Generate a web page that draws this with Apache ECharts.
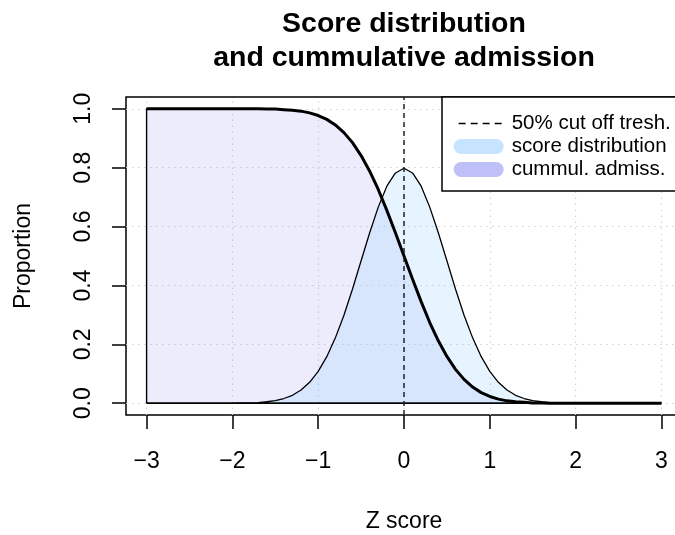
<!DOCTYPE html>
<html><head><meta charset="utf-8">
<script src="https://cdn.jsdelivr.net/npm/echarts@6/dist/echarts.min.js"></script>
<style>html,body{margin:0;padding:0;background:#fff}#c{width:675px;height:535px}</style>
</head><body><div id="c"></div>
<script>
// ---- data ----
const zScores = [-3.0,-2.9,-2.8,-2.7,-2.6,-2.5,-2.4,-2.3,-2.2,-2.1,
  -2.0,-1.9,-1.8,-1.7,-1.6,-1.5,-1.4,-1.3,-1.2,-1.1,
  -1.0,-0.9,-0.8,-0.7,-0.6,-0.5,-0.4,-0.3,-0.2,-0.1,
  0.0,
  0.1,0.2,0.3,0.4,0.5,0.6,0.7,0.8,0.9,1.0,
  1.1,1.2,1.3,1.4,1.5,1.6,1.7,1.8,1.9,2.0,
  2.1,2.2,2.3,2.4,2.5,2.6,2.7,2.8,2.9,3.0];
const scoreDensity = [0,0,0,0,0,0,0,0,0,0,
  0,0.001,0.001,0.002,0.005,0.009,0.016,0.027,0.045,0.071,
  0.108,0.158,0.222,0.299,0.388,0.484,0.579,0.666,0.737,0.782,
  0.798,
  0.782,0.737,0.666,0.579,0.484,0.388,0.299,0.222,0.158,0.108,
  0.071,0.045,0.027,0.016,0.009,0.005,0.002,0.001,0.001,0,
  0,0,0,0,0,0,0,0,0,0];
const cumulAdmission = [1,1,1,1,1,1,1,1,1,1,
  1,1,1,1,0.999,0.999,0.997,0.995,0.992,0.986,
  0.977,0.964,0.945,0.919,0.885,0.841,0.788,0.726,0.655,0.579,
  0.5,
  0.421,0.345,0.274,0.212,0.159,0.115,0.081,0.055,0.036,0.023,
  0.014,0.008,0.005,0.003,0.001,0.001,0,0,0,0,
  0,0,0,0,0,0,0,0,0,0];
const cutoffZ = 0;
const xTicks = [-3,-2,-1,0,1,2,3];
const xTickLabels = ['\u22123','\u22122','\u22121','0','1','2','3'];
const yTicks = [0,0.2,0.4,0.6,0.8,1.0];
const yTickLabels = ['0.0','0.2','0.4','0.6','0.8','1.0'];
const seriesNames = ['50% cut off tresh.','score distribution','cummul. admiss.'];
const titleLines = ['Score distribution','and cummulative admission'];
const xName = 'Z score';
const yName = 'Proportion';

// ---- derived ----
const FONT = '"Liberation Sans", Arial, Helvetica, sans-serif';
const xPad = 0.04 * (xTicks[xTicks.length-1] - xTicks[0]);
const yPad = 0.04 * (yTicks[yTicks.length-1] - yTicks[0]);
const xMin = xTicks[0] - xPad, xMax = xTicks[xTicks.length-1] + xPad;
const yMin = yTicks[0] - yPad, yMax = yTicks[yTicks.length-1] + yPad;
const x0 = zScores[0], x1 = zScores[zScores.length-1];
const polygon = ys => [[x0, 0]].concat(zScores.map((x,i)=>[x, ys[i]])).concat([[x1, 0],[x0, 0]]);
const curve = ys => zScores.map((x,i)=>[x, ys[i]]);
const lookup = (ticks, labels) => v => { const i = ticks.findIndex(t => Math.abs(t - v) < 1e-9); return i >= 0 ? labels[i] : ''; };
const capsule = 'path://M7.5,0 H42.5 A7.5,7.5 0 0 1 42.5,15 H7.5 A7.5,7.5 0 0 1 7.5,0 Z';

const chart = echarts.init(document.getElementById('c'), null, {renderer:'canvas'});
chart.setOption({
  animation: false,
  backgroundColor: '#fff',
  textStyle: {fontFamily: FONT},
  title: {
    text: titleLines.join('\n'),
    left: 404, top: 7, padding: 0, textAlign: 'center',
    textStyle: {fontFamily: FONT, fontWeight: 'bold', fontSize: 28.5, lineHeight: 34, color: '#000'}
  },
  grid: {left: 126, top: 97, width: 556, height: 318, show: true, borderColor: '#000', borderWidth: 1.5, backgroundColor: 'transparent', containLabel: false, outerBoundsMode: 'none'},
  xAxis: {
    type: 'value', min: xMin, max: xMax, position: 'bottom',
    name: xName, nameLocation: 'middle', nameGap: 95,
    nameTextStyle: {fontFamily: FONT, fontSize: 23, color: '#000'},
    axisLine: {show: false, onZero: false},
    axisTick: {show: true, length: 14, customValues: xTicks, lineStyle: {color: '#000', width: 1.5}},
    axisLabel: {customValues: xTicks, formatter: lookup(xTicks, xTickLabels), margin: 35, fontFamily: FONT, fontSize: 23, color: '#000'},
    splitLine: {show: false}
  },
  yAxis: {
    type: 'value', min: yMin, max: yMax, position: 'left',
    name: yName, nameLocation: 'middle', nameGap: 91,
    nameTextStyle: {fontFamily: FONT, fontSize: 23, color: '#000'},
    axisLine: {show: false, onZero: false},
    axisTick: {show: true, length: 14, customValues: yTicks, lineStyle: {color: '#000', width: 1.5}},
    axisLabel: {customValues: yTicks, formatter: lookup(yTicks, yTickLabels), rotate: 90, margin: 31, fontFamily: FONT, fontSize: 23, color: '#000'},
    splitLine: {show: false}
  },
  legend: {
    orient: 'vertical', left: 442, top: 97,
    padding: [16, 40, 11, 11], itemGap: 2, itemWidth: 50, itemHeight: 15,
    borderColor: '#000', borderWidth: 1.5, backgroundColor: '#fff',
    selectedMode: false, z: 10,
    textStyle: {fontFamily: FONT, fontSize: 20.5, lineHeight: 21, color: '#000', padding: [0, 0, 0, 3]},
    data: [
      {name: seriesNames[0], itemStyle: {color: 'rgba(0,0,0,0)', borderWidth: 0, opacity: 0}, lineStyle: {color: '#000', width: 1.3, type: [7,5], dashOffset: 7}},
      {name: seriesNames[1], icon: capsule, itemStyle: {color: '#c6e4ff', borderWidth: 0}},
      {name: seriesNames[2], icon: capsule, itemStyle: {color: '#c0c0f8', borderWidth: 0}}
    ]
  },
  series: [
    {
      name: 'grid', type: 'line', data: [], z: 1, silent: true,
      markLine: {
        z: 1, silent: true, symbol: ['none','none'], label: {show: false},
        lineStyle: {color: '#d3d3d3', type: [1.5, 4.5], width: 1.2},
        emphasis: {disabled: true},
        data: xTicks.map(v => ({xAxis: v})).concat(yTicks.map(v => ({yAxis: v})))
      }
    },
    {
      name: seriesNames[2], type: 'line', data: polygon(cumulAdmission), z: 2,
      symbol: 'none', silent: true,
      lineStyle: {color: '#000', width: 1.4},
      areaStyle: {color: 'rgba(162,162,245,0.29)', origin: 0}
    },
    {
      name: seriesNames[1], type: 'line', data: polygon(scoreDensity), z: 3,
      symbol: 'none', silent: true,
      lineStyle: {color: '#000', width: 1.3},
      areaStyle: {color: 'rgba(133,199,255,0.29)', origin: 0}
    },
    {
      name: 'cummul. curve', type: 'line', data: curve(cumulAdmission), z: 4,
      symbol: 'none', silent: true,
      lineStyle: {color: '#000', width: 3}
    },
    {
      name: seriesNames[0], type: 'line', data: [[cutoffZ, yMin], [cutoffZ, yMax]], z: 5,
      symbol: 'none', silent: true,
      lineStyle: {color: '#222', width: 1.5, type: [5, 4]}
    }
  ]
});
</script>
</body></html>
